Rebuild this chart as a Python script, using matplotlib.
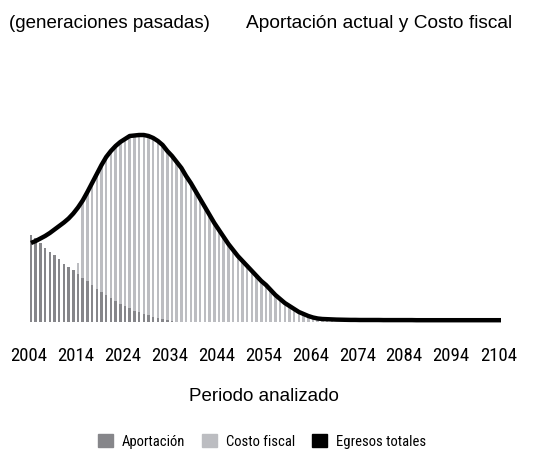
import numpy as np
import matplotlib
matplotlib.use("Agg")
import matplotlib.pyplot as plt
from matplotlib import font_manager as fm
from matplotlib.patches import Patch

# data (arbitrary units)
years = list(range(2004, 2105))
tick_years = list(range(2004, 2105, 10))

aportacion = [87, 84, 79, 74, 70, 67, 63, 58, 55, 52,
              48, 44, 41, 37, 33, 30, 27, 24, 21, 18,
              16, 14, 11, 10, 8, 7, 5, 4, 3, 2,
              1] + [0] * 70

costo_fiscal = [0, 0, 0, 0, 0, 0, 0, 0, 0, 0,
                11, 77.5, 89, 102, 115, 127, 138, 147, 155, 162,
                167, 172, 175.5, 177, 179, 179, 179, 177, 174, 169,
                165, 160, 154, 146, 139, 131, 123, 115, 107, 99,
                92, 85, 78, 72, 66, 61, 56, 51, 46, 41,
                37, 32, 27, 23, 19, 16, 13, 10, 8, 6,
                4.5, 3.5, 3, 2.8, 2.6] + [0] * 36

egresos_totales = [79, 81, 83.5, 86, 89, 92.5, 96, 99.5, 103.5, 108.5,
                   114.5, 121.5, 130, 139, 148, 157, 165, 171, 176, 180,
                   183, 186, 186.5, 187, 187, 186, 184, 181, 177, 171,
                   166, 160, 154, 146, 139, 131, 123, 115, 107, 99,
                   92, 85, 78, 72, 66, 61, 56, 51, 46, 41,
                   37, 32, 27, 23, 19, 16, 13, 10, 8, 6,
                   4.5, 3.5, 3, 2.8, 2.6, 2.4, 2.3, 2.2, 2.1, 2.1,
                   2.0, 2.0, 2.0, 2.0, 2.0, 1.9, 1.9, 1.9, 1.9, 1.9,
                   1.9, 1.9, 1.8, 1.8, 1.8, 1.8, 1.8, 1.8, 1.8, 1.8,
                   1.8, 1.8, 1.8, 1.8, 1.8, 1.8, 1.8, 1.8, 1.8, 1.8,
                   1.8]

DARK = "#86868a"
LIGHT = "#bcbdc1"
REGULAR = ["Liberation Sans", "DejaVu Sans"]


def find_narrow():
    # look for an installed condensed sans face, regular weight
    prefs = ["Liberation Sans Narrow", "Roboto Condensed", "DejaVu Sans",
             "Noto Sans", "Open Sans", "Roboto"]
    skip = ("Bold", "Light", "Italic", "Medium", "Black", "Thin", "Semi",
            "Extra", "Heavy", "Oblique")
    found = {}
    for f in fm.fontManager.ttflist:
        cond = (str(f.stretch) in ("condensed", "semi-condensed", "extra-condensed")
                or "Narrow" in f.name or "Condensed" in f.name
                or "Condensed" in f.fname or "Narrow" in f.fname)
        if not cond or f.style != "normal":
            continue
        if f.weight not in (400, "normal", "regular", "book"):
            continue
        base = f.fname.rsplit("/", 1)[-1]
        if any(k in base for k in skip):
            continue
        found.setdefault(f.name, f.fname)
    for p in prefs:
        if p in found:
            return found[p]
    return next(iter(found.values()), None)


narrow_file = find_narrow()
if narrow_file:
    tick_fp = fm.FontProperties(fname=narrow_file, size=13.5)
    leg_fp = fm.FontProperties(fname=narrow_file, size=10.5)
else:
    tick_fp = fm.FontProperties(family=REGULAR, size=10.8)
    leg_fp = fm.FontProperties(family=REGULAR, size=9.3)

W, H = 534, 452
fig = plt.figure(figsize=(W / 100, H / 100), dpi=100)
ax = fig.add_axes([26.3 / W, (H - 323) / H, 479.4 / W, 200 / H])

x = np.arange(len(years))
ax.bar(x, aportacion, width=0.55, color=DARK, linewidth=0, zorder=2)
ax.bar(x, costo_fiscal, width=0.55, bottom=aportacion, color=LIGHT,
       linewidth=0, zorder=2)
ax.plot(x, egresos_totales, color="black", lw=3.2, zorder=3,
        solid_capstyle="butt", clip_on=False)

ax.set_xlim(-1, 101)
ax.set_ylim(0, 200)
for s in ax.spines.values():
    s.set_visible(False)
ax.set_yticks([])
tick_pos = [years.index(y) - 0.6 for y in tick_years]
ax.set_xticks(tick_pos)
ax.set_xticklabels([str(y) for y in tick_years], fontproperties=tick_fp)
ax.tick_params(axis="x", length=0, pad=17)

ax.set_xlabel("Periodo analizado", family=REGULAR, fontsize=13.5)
ax.xaxis.set_label_coords(0.495, -0.325)

fig.text(109 / W, 1 - 28.5 / H, "(generaciones pasadas)", family=REGULAR,
         fontsize=13.5, ha="center", va="baseline")
fig.text(379 / W, 1 - 28.5 / H, "Aportación actual y Costo fiscal",
         family=REGULAR, fontsize=13.8, ha="center", va="baseline")

handles = [Patch(color=DARK, label="Aportación"),
           Patch(color=LIGHT, label="Costo fiscal"),
           Patch(color="black", label="Egresos totales")]
fig.legend(handles=handles, loc="center", bbox_to_anchor=(262 / W, 1 - 442 / H),
           ncol=3, frameon=False, prop=leg_fp,
           handlelength=1.0, handleheight=1.0, handletextpad=0.6,
           columnspacing=1.2, borderpad=0)

fig.savefig("out.png", dpi=100)
